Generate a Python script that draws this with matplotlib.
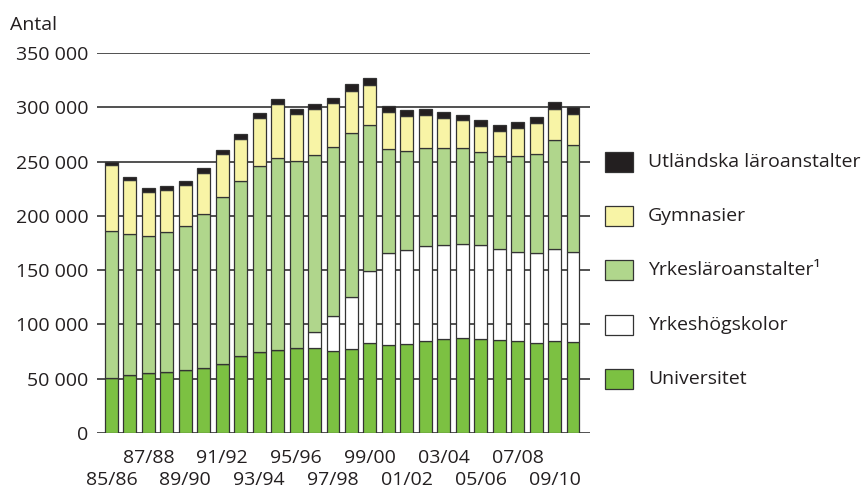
import matplotlib
matplotlib.use("Agg")
import matplotlib.pyplot as plt
from matplotlib.patches import Rectangle
import numpy as np

plt.rcParams['font.family'] = ['Open Sans', 'DejaVu Sans']

years = ['85/86', '86/87', '87/88', '88/89', '89/90', '90/91', '91/92', '92/93',
         '93/94', '94/95', '95/96', '96/97', '97/98', '98/99', '99/00', '00/01',
         '01/02', '02/03', '03/04', '04/05', '05/06', '06/07', '07/08', '08/09',
         '09/10', '10/11']

universitet = [50700, 53000, 54800, 56300, 57500, 60000, 63400, 70700, 74700, 76600,
               78100, 78100, 75600, 77400, 83000, 80600, 81800, 84600, 86200, 87100,
               86800, 85500, 84300, 82400, 84900, 83400]
yrkeshogskolor = [0, 0, 0, 0, 0, 0, 0, 0, 0, 0,
                  0, 15100, 32100, 48100, 66500, 85400, 86700, 87300, 87300, 87300,
                  86400, 84200, 82700, 83100, 84800, 83600]
yrkeslaro = [135400, 130000, 127000, 129100, 133200, 141500, 153700, 161500, 171300, 177100,
             172500, 162700, 155900, 151200, 134400, 95700, 91400, 90700, 89100, 87900,
             86100, 85600, 88300, 91300, 100000, 98700]
gymnasier = [60900, 50100, 40600, 38500, 38100, 38400, 39700, 39000, 44600, 49300,
             43400, 42400, 40300, 38500, 37200, 34100, 32000, 30200, 28000, 25900,
             23700, 23300, 25800, 29200, 29200, 28600]
utlandska = [2400, 2800, 3100, 3400, 3400, 4000, 4000, 4400, 4000, 4600,
             4900, 5200, 5100, 6300, 5800, 5900, 5500, 5800, 5200, 4900,
             5200, 5300, 5200, 4900, 5900, 6200]

series = [
    ('Universitet', universitet, '#7cc142'),
    ('Yrkeshögskolor', yrkeshogskolor, '#ffffff'),
    ('Yrkesläroanstalter¹', yrkeslaro, '#b0d68c'),
    ('Gymnasier', gymnasier, '#f8f4a6'),
    ('Utländska läroanstalter', utlandska, '#231f20'),
]

text_col = '#231f20'
fs = 14
fig = plt.figure(figsize=(8.62, 4.92), dpi=100)
ax = fig.add_axes([97 / 862, 1 - 432.7 / 492, (590 - 97) / 862, (432.7 - 53.3) / 492])

x = np.arange(len(years))
bottom = np.zeros(len(years))
for name, vals, col in series:
    vals = np.array(vals, dtype=float)
    ax.bar(x, vals, width=0.7, bottom=bottom, color=col, edgecolor='#333333',
           linewidth=0.9, zorder=3)
    bottom += vals

ax.set_ylim(0, 350000)
ax.set_xlim(-0.785, 25.92)
yt = np.arange(0, 350001, 50000)
ax.set_yticks(yt)
ax.set_yticklabels([f'{v:,}'.replace(',', ' ') for v in yt])
for v in yt:
    ax.axhline(v, color='#333333', linewidth=1.2, zorder=1)

# two rows of year labels: upper row as major ticks, lower row as minor ticks
upper = list(range(2, 25, 4))
lower = list(range(0, 25, 4))
ax.set_xticks(upper)
ax.set_xticklabels([years[i] for i in upper])
ax.set_xticks(lower, minor=True)
ax.set_xticklabels([years[i] for i in lower], minor=True)

ax.tick_params(axis='both', which='both', length=0, labelsize=fs, colors=text_col)
ax.tick_params(axis='y', pad=6)
ax.tick_params(axis='x', which='major', pad=12)
ax.tick_params(axis='x', which='minor', pad=27.5)
for s in ax.spines.values():
    s.set_visible(False)

fig.text(10 / 862, 1 - 25 / 492, 'Antal', fontsize=fs, color=text_col, va='center')

# legend, top entry first
for k, (name, vals, col) in enumerate(reversed(series)):
    yc = 162 + k * 54.2
    fig.add_artist(Rectangle((605 / 862, 1 - (yc + 10) / 492), 28 / 862, 20 / 492,
                             transform=fig.transFigure, facecolor=col,
                             edgecolor='#333333', linewidth=0.9))
    fig.text(648 / 862, 1 - yc / 492, name, fontsize=fs, color=text_col, va='center')

fig.savefig('out.png', dpi=100)
